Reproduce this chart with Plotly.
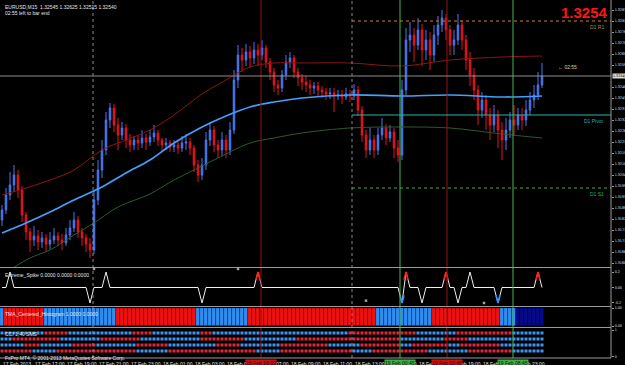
import plotly.graph_objects as go

# ---------------- data ----------------
open_first = 1.31820
closes = [1.31870, 1.31945, 1.31995, 1.32045, 1.31970, 1.31845, 1.31760, 1.31720,
          1.31740, 1.31710, 1.31730, 1.31700, 1.31720, 1.31740, 1.31720, 1.31705,
          1.31745, 1.31780, 1.31820, 1.31760, 1.31730, 1.31700, 1.31670, 1.31920,
          1.32070, 1.32170, 1.32320, 1.32380, 1.32295, 1.32245, 1.32280, 1.32220,
          1.32195, 1.32220, 1.32205, 1.32230, 1.32210, 1.32235, 1.32255, 1.32220,
          1.32195, 1.32205, 1.32185, 1.32195, 1.32180, 1.32205, 1.32210, 1.32180,
          1.32095, 1.32045, 1.32095, 1.32220, 1.32270, 1.32195, 1.32170, 1.32220,
          1.32170, 1.32270, 1.32520, 1.32645, 1.32620, 1.32660, 1.32630, 1.32670,
          1.32645, 1.32680, 1.32610, 1.32560, 1.32495, 1.32480, 1.32545, 1.32610,
          1.32630, 1.32560, 1.32530, 1.32510, 1.32495, 1.32480, 1.32490, 1.32470,
          1.32460, 1.32450, 1.32455, 1.32440, 1.32445, 1.32435, 1.32450, 1.32440,
          1.32470, 1.32370, 1.32245, 1.32170, 1.32220, 1.32170, 1.32245, 1.32280,
          1.32230, 1.32260, 1.32180, 1.32145, 1.32470, 1.32720, 1.32745, 1.32695,
          1.32770, 1.32670, 1.32720, 1.32645, 1.32745, 1.32795, 1.32830, 1.32770,
          1.32695, 1.32720, 1.32795, 1.32720, 1.32620, 1.32545, 1.32470, 1.32370,
          1.32420, 1.32345, 1.32295, 1.32345, 1.32270, 1.32220, 1.32270, 1.32320,
          1.32295, 1.32345, 1.32320, 1.32370, 1.32420, 1.32445, 1.32495, 1.32540]
highs = [1.31895, 1.31980, 1.32060, 1.32095, 1.32070, 1.31990, 1.31860, 1.31780,
         1.31790, 1.31770, 1.31760, 1.31750, 1.31760, 1.31780, 1.31760, 1.31750,
         1.31780, 1.31820, 1.31860, 1.31840, 1.31780, 1.31750, 1.31730, 1.31970,
         1.32120, 1.32220, 1.32360, 1.32405, 1.32400, 1.32330, 1.32310, 1.32300,
         1.32250, 1.32240, 1.32245, 1.32270, 1.32250, 1.32270, 1.32295, 1.32270,
         1.32230, 1.32230, 1.32220, 1.32220, 1.32220, 1.32240, 1.32250, 1.32230,
         1.32195, 1.32120, 1.32130, 1.32260, 1.32310, 1.32290, 1.32220, 1.32260,
         1.32245, 1.32310, 1.32570, 1.32695, 1.32680, 1.32700, 1.32690, 1.32710,
         1.32700, 1.32720, 1.32695, 1.32630, 1.32580, 1.32520, 1.32570, 1.32645,
         1.32660, 1.32645, 1.32580, 1.32550, 1.32540, 1.32520, 1.32510, 1.32510,
         1.32490, 1.32480, 1.32480, 1.32480, 1.32470, 1.32470, 1.32480, 1.32470,
         1.32500, 1.32490, 1.32390, 1.32270, 1.32280, 1.32245, 1.32280, 1.32330,
         1.32300, 1.32295, 1.32280, 1.32220, 1.32520, 1.32780, 1.32810, 1.32780,
         1.32830, 1.32800, 1.32770, 1.32760, 1.32795, 1.32840, 1.32870, 1.32850,
         1.32795, 1.32770, 1.32850, 1.32820, 1.32745, 1.32660, 1.32580, 1.32495,
         1.32460, 1.32445, 1.32380, 1.32395, 1.32370, 1.32310, 1.32330, 1.32360,
         1.32395, 1.32380, 1.32380, 1.32420, 1.32460, 1.32495, 1.32560, 1.32605]
lows = [1.31790, 1.31850, 1.31920, 1.31960, 1.31930, 1.31810, 1.31720, 1.31660,
        1.31690, 1.31670, 1.31680, 1.31660, 1.31675, 1.31700, 1.31690, 1.31670,
        1.31690, 1.31720, 1.31760, 1.31730, 1.31690, 1.31660, 1.31630, 1.31650,
        1.31895, 1.32030, 1.32145, 1.32280, 1.32260, 1.32170, 1.32220, 1.32180,
        1.32160, 1.32170, 1.32170, 1.32180, 1.32170, 1.32190, 1.32210, 1.32190,
        1.32160, 1.32170, 1.32160, 1.32160, 1.32150, 1.32160, 1.32170, 1.32145,
        1.32060, 1.32010, 1.32020, 1.32070, 1.32190, 1.32160, 1.32130, 1.32140,
        1.32130, 1.32145, 1.32250, 1.32480, 1.32560, 1.32590, 1.32580, 1.32600,
        1.32590, 1.32620, 1.32580, 1.32520, 1.32460, 1.32445, 1.32460, 1.32520,
        1.32580, 1.32530, 1.32490, 1.32470, 1.32460, 1.32445, 1.32450, 1.32440,
        1.32430, 1.32420, 1.32425, 1.32360, 1.32420, 1.32400, 1.32420, 1.32410,
        1.32420, 1.32340, 1.32210, 1.32130, 1.32145, 1.32130, 1.32145, 1.32220,
        1.32195, 1.32210, 1.32130, 1.32110, 1.32120, 1.32445, 1.32660, 1.32610,
        1.32670, 1.32590, 1.32620, 1.32570, 1.32610, 1.32695, 1.32760, 1.32720,
        1.32645, 1.32645, 1.32695, 1.32670, 1.32570, 1.32490, 1.32420, 1.32295,
        1.32330, 1.32270, 1.32220, 1.32260, 1.32180, 1.32120, 1.32170, 1.32230,
        1.32245, 1.32270, 1.32270, 1.32290, 1.32345, 1.32380, 1.32420, 1.32480]

# moving average and envelope bands, read at selected bars
ma_bars = [0, 6, 12, 18, 25, 31, 37, 43, 50, 56, 62, 68, 75, 87, 100, 112, 125, 135]
ma_vals = [1.31755, 1.31805, 1.31860, 1.31920, 1.31985, 1.32055, 1.32120, 1.32205, 1.32285,
           1.32340, 1.32385, 1.32410, 1.32430, 1.32445, 1.32440, 1.32445, 1.32435, 1.32440]
up_bars = [0, 6, 12, 18, 25, 31, 37, 43, 50, 56, 62, 68, 75, 87, 100, 112, 125, 135]
up_vals = [1.31945, 1.31980, 1.32020, 1.32070, 1.32170, 1.32220, 1.32270, 1.32345, 1.32450,
           1.32520, 1.32585, 1.32605, 1.32605, 1.32605, 1.32590, 1.32620, 1.32635, 1.32640]
lo_bars = [0, 7, 12, 18, 23, 29, 37, 43, 50, 56, 62, 68, 75, 87, 100, 112, 125, 135]
lo_vals = [1.31545, 1.31630, 1.31670, 1.31745, 1.31805, 1.31885, 1.31950, 1.32020, 1.32090,
           1.32150, 1.32205, 1.32230, 1.32255, 1.32280, 1.32285, 1.32280, 1.32250, 1.32230]

current_price = 1.32540
pivot_start_bar = 87.5
pivot_names = ["D1 R1", "D1 Pivot", "D1 S1"]
pivot_levels = [1.32815, 1.32345, 1.31980]
pivot_colors = ["#c8822a", "#2bb3b0", "#3fae5a"]
pivot_dash = ["dot", "solid", "dot"]

separator_bars = [22.75, 87.5]
red_line_bars = [64.75, 111.25]
green_line_bars = [99.5, 127.75]

price_ticks = [1.32870, 1.32815, 1.32760, 1.32705, 1.32650, 1.32595, 1.32485, 1.32430,
               1.32375, 1.32320, 1.32265, 1.32210, 1.32155, 1.32100, 1.32045, 1.31990,
               1.31935, 1.31880, 1.31825, 1.31770, 1.31715, 1.31660, 1.31605]

# Extreme spike indicator events: bar, value, colour code
spike_bars = [2, 22, 26, 50, 64, 100, 101, 105, 111, 114, 117, 124, 134]
spike_vals = [0.2, -0.2, 0.2, -0.2, 0.2, -0.2, 0.2, -0.2, 0.2, -0.2, 0.2, -0.2, 0.2]
spike_cols = ["w", "w", "w", "w", "r", "b", "r", "w", "r", "w", "w", "b", "r"]
spike_marks_bars = [23, 59, 91, 120.5]
spike_marks_vals = [0.24, 0.24, -0.17, -0.2]

# histogram state runs (colour, number of bars)
hist_runs = [("b", 1), ("r", 10), ("b", 18), ("r", 20), ("b", 13), ("r", 32),
             ("b", 14), ("r", 17), ("b", 4), ("n", 7)]

# four rows of coloured dots (runs)
dot_rows = [
    [("b", 11), ("r", 6), ("b", 16), ("r", 5), ("b", 12), ("r", 3), ("b", 34), ("r", 17),
     ("b", 10), ("r", 14), ("b", 8)],
    [("b", 3), ("r", 12), ("b", 10), ("r", 10), ("b", 15), ("r", 11), ("b", 13), ("r", 26),
     ("b", 11), ("r", 6), ("b", 19)],
    [("b", 6), ("r", 4), ("b", 8), ("r", 6), ("b", 10), ("r", 8), ("b", 12), ("r", 6),
     ("b", 10), ("r", 12), ("b", 8), ("r", 10), ("b", 3), ("r", 9), ("b", 3), ("r", 10), ("b", 11)],
    [("r", 8), ("b", 6), ("r", 20), ("b", 8), ("r", 22), ("b", 6), ("r", 18), ("b", 5),
     ("r", 14), ("b", 10), ("r", 11), ("b", 8)],
]

time_labels = ["17 Feb 2013", "17 Feb 17:00", "17 Feb 19:00", "17 Feb 21:00", "17 Feb 23:00",
               "18 Feb 01:00", "18 Feb 03:00", "18 Feb 05:00", "18 Feb 07:00", "18 Feb 09:00",
               "18 Feb 11:00", "18 Feb 13:00", "18 Feb 15:00", "18 Feb 17:00", "18 Feb 19:00",
               "18 Feb 21:00", "18 Feb 23:00"]
time_label_step = 8
event_labels = ["18 Feb 16:00", "19 Feb 00:45", "19 Feb 03:45", "19 Feb 08:45"]
event_label_bars = [64.75, 99.5, 111.25, 127.75]
event_label_cols = ["#d01010", "#3cb043", "#d01010", "#3cb043"]

# ---------------- geometry helpers ----------------
W, H = 625, 365
AX_X = 611  # pixel of right price axis


def py(p):  # pixel row -> paper y
    return 1 - p / H


n = len(closes)
bars = list(range(n))
opens = [open_first] + closes[:-1]

BLUE = "#4a78ec"
RED = "#e8141e"
FONT = "Liberation Sans"
NARROW = "Liberation Sans Narrow, DejaVu Sans Condensed, Liberation Sans"

fig = go.Figure()

# candles
fig.add_trace(go.Candlestick(
    x=bars, open=opens, high=highs, low=lows, close=closes,
    increasing=dict(line=dict(color=BLUE, width=1), fillcolor=BLUE),
    decreasing=dict(line=dict(color=RED, width=1), fillcolor=RED),
    whiskerwidth=0, xaxis="x", yaxis="y", hoverinfo="skip", showlegend=False))

fig.add_trace(go.Scatter(x=up_bars, y=up_vals, mode="lines", line=dict(color="#8e1414", width=1, shape="spline"),
                         xaxis="x", yaxis="y", hoverinfo="skip", showlegend=False))
fig.add_trace(go.Scatter(x=lo_bars, y=lo_vals, mode="lines", line=dict(color="#2c5a2c", width=1, shape="spline"),
                         xaxis="x", yaxis="y", hoverinfo="skip", showlegend=False))
fig.add_trace(go.Scatter(x=ma_bars, y=ma_vals, mode="lines", line=dict(color="#43a0ff", width=1.7, shape="spline"),
                         xaxis="x", yaxis="y", hoverinfo="skip", showlegend=False))

# spike indicator
spike_series = [0.0] * n
for b, v in zip(spike_bars, spike_vals):
    spike_series[b] = v
fig.add_trace(go.Scatter(x=bars, y=spike_series, mode="lines", line=dict(color="#f0f0f0", width=1),
                         xaxis="x", yaxis="y2", hoverinfo="skip", showlegend=False))
col_map = {"r": "#ff2020", "b": "#3a8cff"}
for b, v, c in zip(spike_bars, spike_vals, spike_cols):
    if c in col_map:
        fig.add_trace(go.Scatter(x=[b - 0.5, b, b + 0.5], y=[v / 2, v, v / 2], mode="lines",
                                 line=dict(color=col_map[c], width=1.6),
                                 xaxis="x", yaxis="y2", hoverinfo="skip", showlegend=False))
fig.add_trace(go.Scatter(x=spike_marks_bars, y=spike_marks_vals, mode="markers",
                         marker=dict(color="#a0a0a0", size=2.5, symbol="square"),
                         xaxis="x", yaxis="y2", hoverinfo="skip", showlegend=False))

# histogram
hist_col = {"b": "#2f8cf0", "r": "#f01010", "n": "#050a8a"}
hcolors = []
for c, k in hist_runs:
    hcolors += [hist_col[c]] * k
fig.add_trace(go.Bar(x=bars, y=[1] * n, width=1.0, marker=dict(color=hcolors, line=dict(color="rgba(0,0,0,0.45)", width=0.6)),
                     xaxis="x", yaxis="y3", hoverinfo="skip", showlegend=False))

# dot rows
dot_col = {"b": "#3d95f5", "r": "#e0283a"}
for r, runs in enumerate(dot_rows):
    cols = []
    for c, k in runs:
        cols += [dot_col[c]] * k
    fig.add_trace(go.Scatter(x=bars, y=[4 - r] * n, mode="markers",
                             marker=dict(color=cols, size=3, symbol="square", line=dict(width=0)),
                             xaxis="x", yaxis="y4", hoverinfo="skip", showlegend=False))

shapes = []
# vertical event lines
for b in separator_bars:
    shapes.append(dict(type="line", xref="x", yref="paper", x0=b, x1=b, y0=py(358), y1=1,
                       line=dict(color="#8a8a8a", width=1, dash="dot")))
for b in red_line_bars:
    shapes.append(dict(type="line", xref="x", yref="paper", x0=b, x1=b, y0=py(358), y1=1,
                       line=dict(color="#9a1010", width=1)))
for b in green_line_bars:
    shapes.append(dict(type="line", xref="x", yref="paper", x0=b, x1=b, y0=py(358), y1=1,
                       line=dict(color="#40b848", width=1)))

XMAX = (AX_X - 2) / 4
# current price line
shapes.append(dict(type="line", xref="x", yref="y", x0=-0.5, x1=XMAX, y0=current_price, y1=current_price,
                   line=dict(color="#8c8c8c", width=1)))
# pivots
for name, lv, col, d in zip(pivot_names, pivot_levels, pivot_colors, pivot_dash):
    shapes.append(dict(type="line", xref="x", yref="y", x0=pivot_start_bar, x1=XMAX, y0=lv, y1=lv,
                       line=dict(color=col, width=1, dash=d)))

# panel separators and axis lines
for p in [267.5, 306.5, 327.5, 358]:
    shapes.append(dict(type="line", xref="paper", yref="paper", x0=0, x1=AX_X / W, y0=py(p), y1=py(p),
                       line=dict(color="#9a9a9a", width=1.2)))
shapes.append(dict(type="line", xref="paper", yref="paper", x0=AX_X / W, x1=AX_X / W, y0=py(358), y1=1,
                   line=dict(color="#9a9a9a", width=1)))

ann = []
small = dict(family=FONT, size=5, color="#e6e6e6")
ann.append(dict(xref="paper", yref="paper", x=3 / W, y=py(2), xanchor="left", yanchor="top", showarrow=False,
                text="EURUSD,M15  1.32545 1.32625 1.32515 1.32540", font=small))
ann.append(dict(xref="paper", yref="paper", x=3 / W, y=py(8), xanchor="left", yanchor="top", showarrow=False,
                text="02:55 left to bar end", font=small))
ann.append(dict(xref="paper", yref="paper", x=610 / W, y=py(12.5), xanchor="right", yanchor="middle", showarrow=False,
                text="<b>1.3254</b>", font=dict(family=FONT, size=15, color="#ff1414")))
ann.append(dict(xref="paper", yref="y", x=556 / W, y=current_price + 0.00045, xanchor="left", yanchor="middle",
                showarrow=False, text="\u2190 02:55", font=dict(family=FONT, size=5, color="#e2cf8a")))
for name, lv, col in zip(pivot_names, pivot_levels, pivot_colors):
    ann.append(dict(xref="paper", yref="y", x=606 / W, y=lv, xanchor="right", yanchor="top", showarrow=False,
                    text=name, font=dict(family=FONT, size=5, color=col), yshift=-0.5))
ann.append(dict(xref="paper", yref="y", x=(AX_X + 1) / W, y=current_price, xanchor="left", yanchor="middle",
                showarrow=False, text="1.32540", bgcolor="#d8d8d8", borderpad=0,
                font=dict(family=NARROW, size=3.6, color="#000000")))
ann.append(dict(xref="paper", yref="paper", x=3 / W, y=py(269.5), xanchor="left", yanchor="top", showarrow=False,
                text="Extreme_Spike 0.0000 0.0000 0.0000", font=small))
ann.append(dict(xref="paper", yref="paper", x=3 / W, y=py(308.5), xanchor="left", yanchor="top", showarrow=False,
                text="TMA_Centered_Histogram 1.0000 0.0000", font=small))
ann.append(dict(xref="paper", yref="paper", x=3 / W, y=py(329), xanchor="left", yanchor="top", showarrow=False,
                text="CCI 1,40 SMS", font=small))
ann.append(dict(xref="paper", yref="paper", x=3 / W, y=py(353), xanchor="left", yanchor="top", showarrow=False,
                text="FxPro MT4, \u00a9 2001-2013 MetaQuotes Software Corp.", font=small))
for k, t in enumerate(time_labels):
    ann.append(dict(xref="x", yref="paper", x=k * time_label_step - 0.3, y=py(359), xanchor="left", yanchor="top",
                    showarrow=False, text=t, font=small))
for t, b, c in zip(event_labels, event_label_bars, event_label_cols):
    ann.append(dict(xref="x", yref="paper", x=b, y=py(358.5), xanchor="center", yanchor="top", showarrow=False,
                    text=t, bgcolor=c, borderpad=0, font=dict(family=FONT, size=5, color="#101010")))

axis_common = dict(anchor="x", side="right", showgrid=False, zeroline=False, ticks="outside", ticklen=2,
                   tickcolor="#9a9a9a", tickfont=dict(family=NARROW, size=3.6, color="#e0e0e0"),
                   showline=False, automargin=False, fixedrange=True)

fig.update_layout(
    width=W, height=H, margin=dict(l=0, r=0, t=0, b=0),
    paper_bgcolor="#000000", plot_bgcolor="#000000",
    showlegend=False, bargap=0, boxgap=0.45, hovermode=False,
    xaxis=dict(domain=[0, AX_X / W], range=[-0.5, XMAX], visible=False, rangeslider=dict(visible=False),
               fixedrange=True),
    yaxis=dict(domain=[py(267), 1], range=[1.31585, 1.32920], tickvals=price_ticks,
               ticktext=["%.5f" % v for v in price_ticks], **axis_common),
    yaxis2=dict(domain=[py(305), py(268)], range=[-0.226, 0.252], tickvals=[0.2, 0, -0.2],
                ticktext=["0.2", "0.00", "-0.2"], **axis_common),
    yaxis3=dict(domain=[py(326), py(308)], range=[0, 1], tickvals=[1, 0], ticktext=["1.00", "0.00"], **axis_common),
    yaxis4=dict(domain=[py(357), py(329)], range=[0, 4.667], tickvals=[4.5, 0.1], ticktext=["1", "0"], **axis_common),
    shapes=shapes, annotations=ann,
)

fig.write_html("out.html")
